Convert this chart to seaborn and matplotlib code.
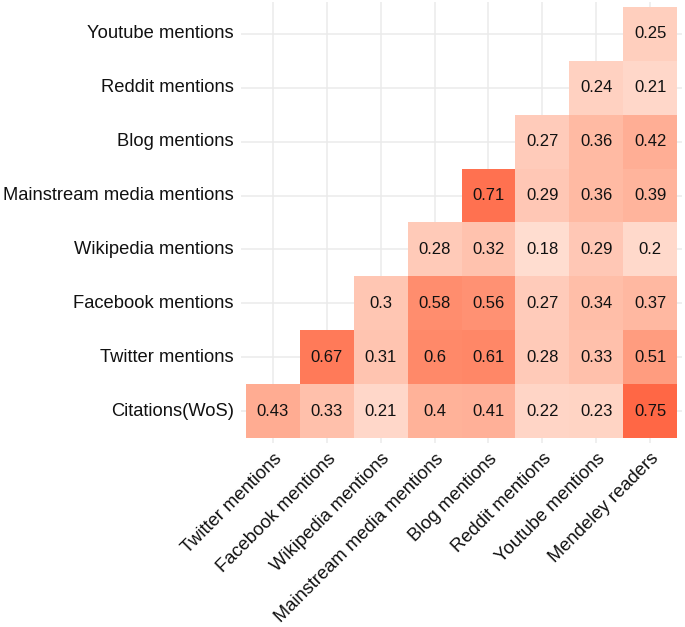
import numpy as np
import pandas as pd
import matplotlib
matplotlib.use("Agg")
import matplotlib.pyplot as plt
import seaborn as sns
from matplotlib.colors import ListedColormap

# rows bottom -> top, columns left -> right
row_labels = ["Citations(WoS)", "Twitter mentions", "Facebook mentions",
              "Wikipedia mentions", "Mainstream media mentions",
              "Blog mentions", "Reddit mentions", "Youtube mentions"]
col_labels = ["Twitter mentions", "Facebook mentions", "Wikipedia mentions",
              "Mainstream media mentions", "Blog mentions", "Reddit mentions",
              "Youtube mentions", "Mendeley readers"]

citations = [0.43, 0.33, 0.21, 0.40, 0.41, 0.22, 0.23, 0.75]
twitter = [None, 0.67, 0.31, 0.60, 0.61, 0.28, 0.33, 0.51]
facebook = [None, None, 0.30, 0.58, 0.56, 0.27, 0.34, 0.37]
wikipedia = [None, None, None, 0.28, 0.32, 0.18, 0.29, 0.20]
mainstream = [None, None, None, None, 0.71, 0.29, 0.36, 0.39]
blog = [None, None, None, None, None, 0.27, 0.36, 0.42]
reddit = [None, None, None, None, None, None, 0.24, 0.21]
youtube = [None, None, None, None, None, None, None, 0.25]

df = pd.DataFrame([citations, twitter, facebook, wikipedia, mainstream,
                   blog, reddit, youtube], index=row_labels,
                  columns=col_labels, dtype=float)
df = df.iloc[::-1]  # heatmap draws first row on top


def lab_to_rgb(L, a, b):
    fy = (L + 16) / 116
    fx = fy + a / 500
    fz = fy - b / 200

    def finv(t):
        return np.where(t > 6 / 29, t ** 3, 3 * (6 / 29) ** 2 * (t - 4 / 29))

    X = 0.95047 * finv(fx)
    Y = finv(fy)
    Z = 1.08883 * finv(fz)
    r = 3.2406 * X - 1.5372 * Y - 0.4986 * Z
    g = -0.9689 * X + 1.8758 * Y + 0.0415 * Z
    bl = 0.0557 * X - 0.2040 * Y + 1.0570 * Z
    rgb = np.stack([r, g, bl], axis=-1)
    rgb = np.where(rgb <= 0.0031308, 12.92 * rgb,
                   1.055 * np.clip(rgb, 0, None) ** (1 / 2.4) - 0.055)
    return np.clip(rgb, 0, 1)


# white -> red, interpolated in Lab like ggplot's gradient
t = np.linspace(0, 1, 256)
white = np.array([100.0, 0.0, 0.0])
red = np.array([53.24, 80.09, 67.20])
lab = white[None, :] + t[:, None] * (red - white)[None, :]
cmap = ListedColormap(lab_to_rgb(lab[:, 0], lab[:, 1], lab[:, 2]))

annot = df.map(lambda v: "" if np.isnan(v) else f"{v:g}")

sns.set_theme(style="white")
plt.rcParams["font.family"] = ["Liberation Sans", "DejaVu Sans"]

fig = plt.figure(figsize=(6.85, 6.27), dpi=100)
ax = fig.add_axes([240.6 / 685, 1 - 443.4 / 627, 441.8 / 685, 441.8 / 627])

sns.heatmap(df, ax=ax, cmap=cmap, vmin=0, vmax=1, cbar=False,
            annot=annot, fmt="", mask=df.isna(), linewidths=0,
            annot_kws={"fontsize": 12, "color": "#111111"})

ax.set_xlim(-0.1, 8.1)
ax.set_ylim(8.1, -0.1)
ax.set_axisbelow(True)
ax.grid(True, color="#ebebeb", linewidth=1.1)
for s in ax.spines.values():
    s.set_visible(False)

ax.set_xlabel("")
ax.set_ylabel("")
ax.tick_params(axis="both", length=3, color="#ebebeb", width=1.1,
               labelsize=13.2, labelcolor="#111111", pad=2)
plt.setp(ax.get_xticklabels(), rotation=45, ha="right",
         rotation_mode="anchor")
plt.setp(ax.get_yticklabels(), rotation=0)

fig.savefig("out.png", dpi=100)
